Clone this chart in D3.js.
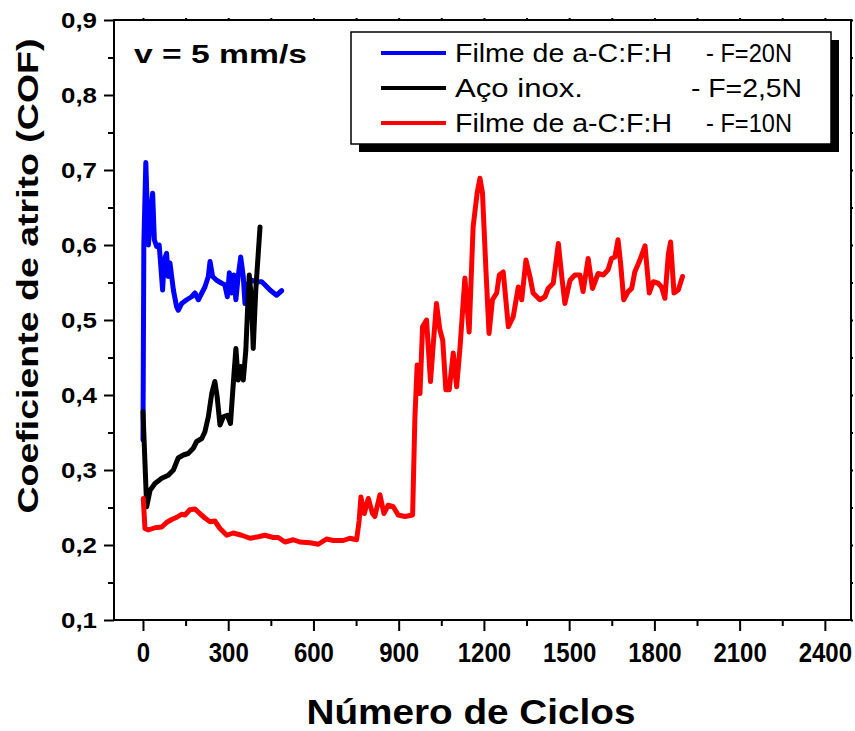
<!DOCTYPE html>
<html>
<head>
<meta charset="utf-8">
<script src="https://cdn.jsdelivr.net/npm/d3@7"></script>
<style>
  body { margin: 0; background: #fff; }
  text { font-family: "Liberation Sans", Arial, sans-serif; }
</style>
</head>
<body>
<script>
// series: Filme de a-C:F:H - F=20N (blue)
var blueCycles = [0, 3, 10, 19, 27, 34, 40, 48, 57, 62, 69, 75, 83, 89, 95, 107, 118, 124, 136, 154, 171, 183, 195, 207, 218, 230, 236, 245, 259, 277, 288, 297, 304, 312, 320, 327, 335, 344, 353, 359, 371, 382, 400, 418, 429, 447, 470, 488];
var blueCof = [0.34, 0.60, 0.71, 0.60, 0.64, 0.669, 0.607, 0.598, 0.60, 0.576, 0.54, 0.58, 0.589, 0.558, 0.576, 0.54, 0.518, 0.513, 0.522, 0.527, 0.531, 0.536, 0.527, 0.536, 0.544, 0.558, 0.578, 0.558, 0.553, 0.549, 0.547, 0.531, 0.563, 0.536, 0.56, 0.527, 0.558, 0.584, 0.558, 0.522, 0.549, 0.553, 0.551, 0.551, 0.547, 0.54, 0.533, 0.539];

// series: Aco inox. - F=2,5N (black)
var blackCycles = [0, 13, 25, 42, 66, 89, 107, 124, 142, 159, 177, 189, 207, 218, 230, 242, 253, 261, 271, 283, 297, 308, 318, 327, 335, 344, 353, 362, 368, 374, 382, 388, 397, 412];
var blackCof = [0.378, 0.251, 0.273, 0.282, 0.289, 0.293, 0.30, 0.316, 0.32, 0.322, 0.329, 0.338, 0.342, 0.351, 0.371, 0.402, 0.418, 0.398, 0.36, 0.371, 0.373, 0.362, 0.416, 0.462, 0.42, 0.438, 0.42, 0.46, 0.513, 0.56, 0.527, 0.462, 0.54, 0.624];

// series: Filme de a-C:F:H - F=10N (red)
var redCycles = [1, 7, 19, 42, 66, 83, 101, 119, 136, 148, 165, 183, 200, 218, 236, 253, 271, 295, 318, 347, 377, 406, 429, 459, 476, 500, 529, 552, 588, 617, 646, 670, 705, 728, 752, 761, 767, 779, 793, 808, 816, 834, 848, 863, 881, 898, 922, 949, 957, 965, 975, 984, 998, 1012, 1021, 1033, 1045, 1055, 1066, 1078, 1092, 1104, 1116, 1133, 1148, 1162, 1176, 1186, 1195, 1207, 1218, 1230, 1245, 1254, 1268, 1286, 1303, 1321, 1333, 1348, 1362, 1373, 1397, 1415, 1426, 1444, 1462, 1474, 1485, 1503, 1520, 1538, 1549, 1567, 1582, 1602, 1620, 1637, 1649, 1661, 1672, 1681, 1692, 1708, 1720, 1731, 1749, 1767, 1782, 1796, 1813, 1825, 1837, 1849, 1857, 1869, 1884, 1899];
var redCof = [0.262, 0.222, 0.22, 0.223, 0.224, 0.23, 0.234, 0.237, 0.241, 0.24, 0.247, 0.248, 0.242, 0.236, 0.231, 0.232, 0.222, 0.213, 0.216, 0.213, 0.209, 0.211, 0.213, 0.21, 0.21, 0.204, 0.207, 0.204, 0.203, 0.201, 0.208, 0.206, 0.206, 0.209, 0.207, 0.233, 0.264, 0.242, 0.262, 0.242, 0.238, 0.267, 0.242, 0.253, 0.251, 0.24, 0.238, 0.24, 0.369, 0.44, 0.402, 0.491, 0.50, 0.418, 0.464, 0.522, 0.487, 0.473, 0.407, 0.407, 0.456, 0.411, 0.464, 0.556, 0.484, 0.624, 0.669, 0.689, 0.669, 0.567, 0.482, 0.527, 0.536, 0.56, 0.564, 0.491, 0.504, 0.544, 0.527, 0.58, 0.558, 0.536, 0.527, 0.531, 0.542, 0.549, 0.602, 0.558, 0.522, 0.553, 0.56, 0.56, 0.538, 0.582, 0.542, 0.562, 0.56, 0.567, 0.582, 0.584, 0.607, 0.576, 0.527, 0.538, 0.542, 0.564, 0.58, 0.599, 0.536, 0.551, 0.549, 0.544, 0.529, 0.587, 0.604, 0.536, 0.54, 0.558];

var xTicks = [0, 300, 600, 900, 1200, 1500, 1800, 2100, 2400];
var xMinor = [150, 450, 750, 1050, 1350, 1650, 1950, 2250];
var yTicks = [0.1, 0.2, 0.3, 0.4, 0.5, 0.6, 0.7, 0.8, 0.9];
var yMinor = [0.15, 0.25, 0.35, 0.45, 0.55, 0.65, 0.75, 0.85];

var legendNames = ["Filme de a-C:F:H", "Aço inox.", "Filme de a-C:F:H"];
var legendLoads = ["- F=20N", "- F=2,5N", "- F=10N"];
var colors = ["#0000ff", "#000000", "#ff0000"];

var width = 855,
    height = 731;

var svg = d3.select("body")
    .append("svg")
    .attr("width", width)
    .attr("height", height);

svg.append("rect").attr("width", width).attr("height", height).attr("fill", "#fff");

var x = d3.scaleLinear().domain([-102, 2492]).range([114, 851]);
var y = d3.scaleLinear().domain([0.1, 0.9]).range([620, 20]);

svg.append("clipPath").attr("id", "plot")
    .append("rect").attr("x", 114).attr("y", 20).attr("width", 737).attr("height", 600);

// lines
var line = d3.line()
    .x(function (d) { return x(d[0]); })
    .y(function (d) { return y(d[1]); });

var series = [
    d3.zip(blueCycles, blueCof),
    d3.zip(blackCycles, blackCof),
    d3.zip(redCycles, redCof)
];

series.forEach(function (s, i) {
    svg.append("path")
        .datum(s)
        .attr("clip-path", "url(#plot)")
        .attr("fill", "none")
        .attr("stroke", colors[i])
        .attr("stroke-width", 5)
        .attr("stroke-linejoin", "round")
        .attr("stroke-linecap", "round")
        .attr("d", line);
});

// axes
function styleAxis(g) {
    g.select(".domain").remove();
    g.selectAll("line").attr("stroke", "#000").attr("stroke-width", 2);
}

svg.append("g").attr("transform", "translate(0,620)")
    .call(d3.axisBottom(x).tickValues(xMinor).tickSize(6).tickFormat(""))
    .call(styleAxis);

var xAxis = svg.append("g").attr("transform", "translate(0,620)")
    .call(d3.axisBottom(x).tickValues(xTicks).tickSize(11).tickFormat(d3.format("d")))
    .call(styleAxis);
// labels a bit taller than wide, as in the original
xAxis.selectAll("text")
    .attr("y", 36.5).attr("dy", 0)
    .attr("transform", "scale(1,1.15)")
    .attr("fill", "#000")
    .style("font-size", "24px").style("font-weight", "bold");

svg.append("g").attr("transform", "translate(114,0)")
    .call(d3.axisLeft(y).tickValues(yMinor).tickSize(6).tickFormat(""))
    .call(styleAxis);

var yAxis = svg.append("g").attr("transform", "translate(114,0)")
    .call(d3.axisLeft(y).tickValues(yTicks).tickSize(10)
        .tickFormat(function (d) { return d.toFixed(1).replace(".", ","); }))
    .call(styleAxis);
yAxis.selectAll("text")
    .attr("x", -17).attr("dy", "0.35em")
    .attr("fill", "#000")
    .style("font-size", "22px").style("font-weight", "bold")
    .attr("textLength", 36)
    .attr("lengthAdjust", "spacingAndGlyphs");

// top and right: small ticks only
svg.append("g").attr("transform", "translate(0,20)")
    .call(d3.axisTop(x).tickValues(xTicks.concat(xMinor)).tickSize(2).tickFormat(""))
    .call(styleAxis);
svg.append("g").attr("transform", "translate(851,0)")
    .call(d3.axisRight(y).tickValues(yTicks.concat(yMinor)).tickSize(2).tickFormat(""))
    .call(styleAxis);

// frame
svg.append("rect")
    .attr("x", 114).attr("y", 20).attr("width", 737).attr("height", 600)
    .attr("fill", "none").attr("stroke", "#000").attr("stroke-width", 2);

// axis titles
svg.append("text")
    .attr("x", 471).attr("y", 724)
    .attr("text-anchor", "middle")
    .style("font-size", "35px").style("font-weight", "bold")
    .attr("textLength", 329).attr("lengthAdjust", "spacingAndGlyphs")
    .text("Número de Ciclos");

svg.append("text")
    .attr("transform", "translate(38,276) rotate(-90)")
    .attr("text-anchor", "middle")
    .style("font-size", "30px").style("font-weight", "bold")
    .attr("textLength", 475).attr("lengthAdjust", "spacingAndGlyphs")
    .text("Coeficiente de atrito (COF)");

svg.append("text")
    .attr("x", 134).attr("y", 63)
    .style("font-size", "26px").style("font-weight", "bold")
    .attr("textLength", 173).attr("lengthAdjust", "spacingAndGlyphs")
    .text("v = 5 mm/s");

// legend with shadow
svg.append("rect")
    .attr("x", 359).attr("y", 40).attr("width", 480).attr("height", 112)
    .attr("fill", "#000");
svg.append("rect")
    .attr("x", 351).attr("y", 32).attr("width", 480).attr("height", 112)
    .attr("fill", "#fff").attr("stroke", "#000").attr("stroke-width", 1.5);

var loadX = [706, 691, 706];
var loadW = [86, 111, 86];
var nameW = [217, 128, 217];

legendNames.forEach(function (name, i) {
    var ly = 53 + i * 35;
    svg.append("line")
        .attr("x1", 381).attr("x2", 446)
        .attr("y1", ly).attr("y2", ly)
        .attr("stroke", colors[i]).attr("stroke-width", 4);
    svg.append("text")
        .attr("x", 455).attr("y", ly + 9)
        .style("font-size", "26px")
        .attr("textLength", nameW[i]).attr("lengthAdjust", "spacingAndGlyphs")
        .text(name);
    svg.append("text")
        .attr("x", loadX[i]).attr("y", ly + 9)
        .style("font-size", "26px")
        .attr("textLength", loadW[i]).attr("lengthAdjust", "spacingAndGlyphs")
        .text(legendLoads[i]);
});
</script>
</body>
</html>
